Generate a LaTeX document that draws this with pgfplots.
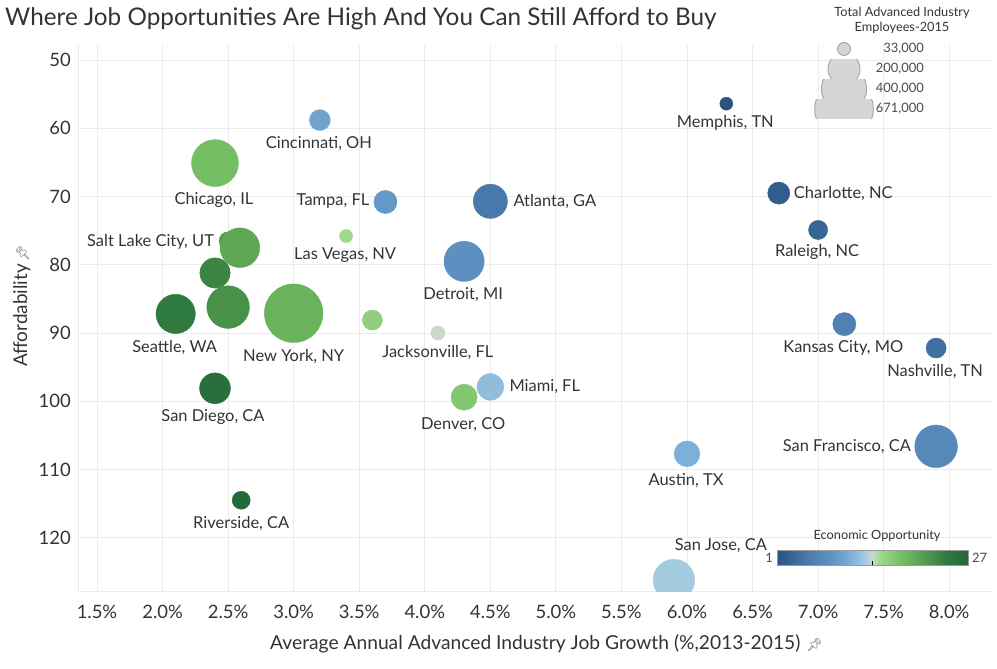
\documentclass[border=0pt]{standalone}
\usepackage{pgfplots}
\pgfplotsset{compat=1.18}
\usepackage{fontspec}
\setmainfont{Lato}
\newfontfamily\emojifont{Noto Emoji}

\definecolor{gridcol}{HTML}{EBEBEB}
\definecolor{txt}{HTML}{333333}
\definecolor{legtxt}{HTML}{4A4A4A}
\definecolor{pincol}{HTML}{5E6675}
\definecolor{szfill}{HTML}{D6D6D6}
\definecolor{szline}{HTML}{A8A8A8}
\definecolor{barframe}{HTML}{9A9A9A}

% Economic Opportunity rank (1 = best) -> blue ... pale ... green
\pgfplotsset{
  colormap={bluegreen}{
    rgb255(0pt)=(41,84,128)
    rgb255(4pt)=(72,121,170)
    rgb255(8pt)=(100,152,199)
    rgb255(10pt)=(124,176,216)
    rgb255(12pt)=(165,203,224)
    rgb255(13pt)=(205,216,205)
    rgb255(14pt)=(160,216,140)
    rgb255(17pt)=(116,190,100)
    rgb255(20pt)=(85,156,78)
    rgb255(23pt)=(47,122,63)
    rgb255(26pt)=(36,105,58)
  },
  sizerow/.style={
    at={(844bp,#1)}, anchor=center, scale only axis,
    width=64bp, height=19bp, xmin=-1, xmax=1, ymin=-1, ymax=1,
    axis line style={draw=none}, xtick=\empty, ytick=\empty,
    clip=true, clip marker paths=true,
  },
  plotframe/.style={
    at={(78bp,78bp)}, anchor=south west,
    scale only axis, width=915bp, height=546bp,
    xmin=1.355, xmax=8.334, ymin=47.8, ymax=127.8, y dir=reverse,
  },
}
% bubble radius (bp) from advanced-industry employees in thousands
\newcommand\bubr[1]{1.131*sqrt(#1)}

% \city{job growth %}{affordability}{employees (k)}{opportunity rank}{anchor}{dx}{dy}{name}
\newcommand\citylist{%
  \city{6.30}{56.4}{33}{1}{center}{-1}{-19}{Memphis, TN}
  \city{3.20}{58.8}{85}{10}{center}{-1}{-24}{Cincinnati, OH}
  \city{2.40}{65.1}{431}{18}{center}{-1}{-37}{Chicago, IL}
  \city{3.70}{70.8}{105}{9}{east}{-16}{1}{Tampa, FL}
  \city{4.50}{70.7}{229}{5}{west}{23}{0}{Atlanta, GA}
  \city{6.70}{69.5}{96}{2}{west}{15}{0}{Charlotte, NC}
  \city{7.00}{74.9}{72}{3}{center}{-1}{-22}{Raleigh, NC}
  \city{2.50}{76.5}{64}{21}{east}{-14}{-1}{Salt Lake City, UT}
  \city{2.59}{77.5}{308}{20}{center}{0}{0}{}
  \city{3.40}{75.8}{34}{15}{center}{-1}{-19}{Las Vegas, NV}
  \city{4.30}{79.5}{317}{8}{center}{-1}{-33}{Detroit, MI}
  \city{2.40}{81.2}{179}{23}{center}{0}{0}{}
  \city{2.10}{87.2}{302}{24}{center}{-1}{-34}{Seattle, WA}
  \city{2.50}{86.2}{355}{22}{center}{0}{0}{}
  \city{3.00}{87.1}{671}{19}{center}{0}{-43}{New York, NY}
  \city{3.60}{88.1}{79}{16}{center}{0}{0}{}
  \city{4.10}{90.0}{39}{14}{center}{0}{-20}{Jacksonville, FL}
  \city{2.40}{98.1}{186}{26}{center}{-2}{-29}{San Diego, CA}
  \city{4.50}{97.9}{140}{12}{west}{19}{0}{Miami, FL}
  \city{4.30}{99.4}{134}{17}{center}{-1}{-27}{Denver, CO}
  \city{7.20}{88.7}{105}{6}{center}{-1}{-24}{Kansas City, MO}
  \city{7.90}{92.2}{79}{4}{center}{-1}{-24}{Nashville, TN}
  \city{7.90}{106.6}{356}{7}{east}{-25}{0}{San Francisco, CA}
  \city{6.00}{107.7}{130}{11}{center}{-1}{-27}{Austin, TX}
  \city{2.60}{114.5}{64}{27}{center}{0}{-23}{Riverside, CA}
  \city{5.90}{126.2}{340}{13}{center}{47}{34}{San Jose, CA}
}
% first pass: bubbles
\newcommand\citybubble[8]{%
  \addplot[scatter, only marks, mark=*, point meta={#4},
    scatter/use mapped color={draw=mapped color, fill=mapped color},
    mark size={\bubr{#3}*1bp}] coordinates {(#1,#2)};
}
% second pass: names on top
\newcommand\cityname[8]{%
  \addplot[draw=none, mark=none, point meta=explicit symbolic,
    nodes near coords={#8},
    every node near coord/.append style={anchor=#5, xshift=#6bp, yshift=#7bp,
      inner sep=0pt, font=\fontsize{16.5}{19}\selectfont, text=txt}]
    coordinates {(#1,#2) [x]};
}
\newcommand\pin{{\emojifont\fontsize{13}{13}\selectfont\textcolor{pincol}{\symbol{"1F4CC}}}}

\begin{document}
\begin{tikzpicture}
\path[use as bounding box] (0,0) rectangle (997bp,669bp);

\begin{axis}[
  plotframe,
  axis line style={draw=none},
  tick style={draw=none},
  xtick={1.5,2,2.5,3,3.5,4,4.5,5,5.5,6,6.5,7,7.5,8},
  xticklabels={1.5\%,2.0\%,2.5\%,3.0\%,3.5\%,4.0\%,4.5\%,5.0\%,5.5\%,6.0\%,6.5\%,7.0\%,7.5\%,8.0\%},
  ytick={50,60,70,80,90,100,110,120},
  yticklabels={50,60,70,80,90,100,110,120},
  xticklabel style={anchor=center, yshift=-21bp, font=\fontsize{18.5}{21}\selectfont, text=txt},
  yticklabel style={anchor=east, inner sep=0pt, xshift=-7bp, font=\fontsize{18.5}{21}\selectfont, text=txt},
  grid=major, major grid style={draw=gridcol, line width=0.8bp},
  extra x ticks={1.355}, extra x tick labels={},
  extra y ticks={127.8}, extra y tick labels={},
  extra tick style={grid=major},
  clip marker paths=true,
  point meta min=1, point meta max=27,
  colormap name=bluegreen,
]
\let\city\citybubble
\citylist
\let\city\cityname
\citylist
\end{axis}

% colour scale for the opportunity rank
\begin{axis}[
  plotframe, hide axis,
  point meta min=1, point meta max=27,
  colormap name=bluegreen,
  colorbar horizontal,
  colorbar style={
    at={(parent axis.south west)}, anchor=south west,
    xshift=699bp, yshift=34bp,
    scale only axis, width=191bp, height=15bp,
    xtick={14}, xticklabels={}, xtick pos=left,
    tick align=inside, major tick length=5bp,
    xtick style={draw=black, line width=0.8bp},
    ytick=\empty,
    axis line style={draw=barframe, line width=0.8bp},
  },
]
\addplot[draw=none, mark=none] coordinates {(2,60)};
\end{axis}

% size legend: one clipped row per reference headcount
\begin{axis}[sizerow=620bp]
\addplot[only marks, mark=*, mark size={\bubr{33}*1bp},
  mark options={draw=szline, fill=szfill, line width=1bp}] coordinates {(0,0)};
\end{axis}
\begin{axis}[sizerow=600bp]
\addplot[only marks, mark=*, mark size={\bubr{200}*1bp},
  mark options={draw=szline, fill=szfill, line width=1bp}] coordinates {(0,0)};
\end{axis}
\begin{axis}[sizerow=580bp]
\addplot[only marks, mark=*, mark size={\bubr{400}*1bp},
  mark options={draw=szline, fill=szfill, line width=1bp}] coordinates {(0,0)};
\end{axis}
\begin{axis}[sizerow=560bp]
\addplot[only marks, mark=*, mark size={\bubr{671}*1bp},
  mark options={draw=szline, fill=szfill, line width=1bp}] coordinates {(0,0)};
\end{axis}

\begin{scope}[every node/.style={inner sep=0pt}]
  \node[anchor=base west, text=txt, font=\fontsize{24.4}{28}\selectfont]
    at (5bp,643bp) {Where Job Opportunities Are High And You Can Still Afford to Buy};
  \node[anchor=base west, text=txt, font=\fontsize{19.3}{22}\selectfont]
    at (270bp,19.5bp) {Average Annual Advanced Industry Job Growth (\%,2013-2015)\hspace{6bp}\pin};
  \node[anchor=base west, rotate=90, text=txt, font=\fontsize{19}{22}\selectfont]
    at (27bp,302bp) {Affordability\hspace{3bp}\pin};

  \node[text=txt, font=\fontsize{12.8}{15}\selectfont] at (902bp,656bp) {Total Advanced Industry};
  \node[text=txt, font=\fontsize{12.8}{15}\selectfont] at (902bp,641bp) {Employees-2015};
  \node[anchor=east, text=legtxt, font=\fontsize{13}{15}\selectfont] at (924bp,620bp) {33,000};
  \node[anchor=east, text=legtxt, font=\fontsize{13}{15}\selectfont] at (924bp,600bp) {200,000};
  \node[anchor=east, text=legtxt, font=\fontsize{13}{15}\selectfont] at (924bp,580bp) {400,000};
  \node[anchor=east, text=legtxt, font=\fontsize{13}{15}\selectfont] at (924bp,560bp) {671,000};

  \node[text=txt, font=\fontsize{12.8}{15}\selectfont] at (877bp,133bp) {Economic Opportunity};
  \node[anchor=east, text=legtxt, font=\fontsize{13}{15}\selectfont] at (773bp,111bp) {1};
  \node[anchor=west, text=legtxt, font=\fontsize{13}{15}\selectfont] at (972bp,111bp) {27};
\end{scope}
\end{tikzpicture}
\end{document}
